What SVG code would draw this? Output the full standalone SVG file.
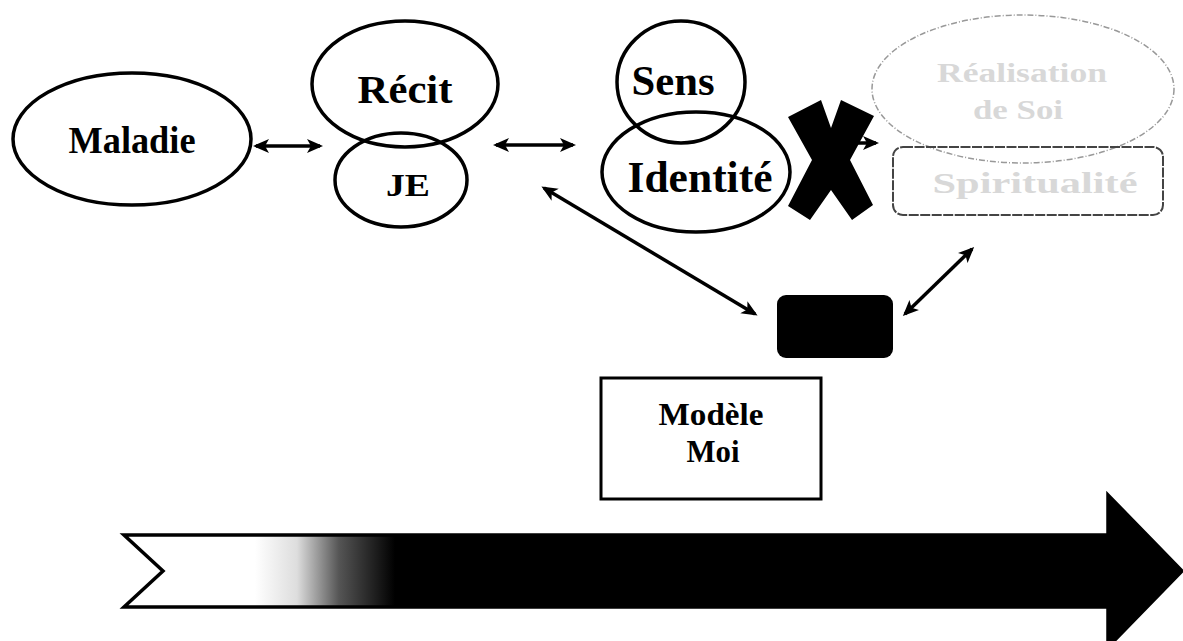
<svg xmlns="http://www.w3.org/2000/svg" width="1183" height="641" viewBox="0 0 1183 641">
  <style>
    .shape { fill: none; stroke: #000; stroke-width: 3.5; }
    .lbl { font-family: "Liberation Serif", "Times New Roman", serif; font-weight: bold; fill: #000; text-anchor: middle; }
    .faint { font-family: "Liberation Serif", "Times New Roman", serif; font-weight: bold; fill: #d8d8d8; text-anchor: middle; }
    .conn { fill: none; stroke: #000; stroke-width: 3.5; }
  </style>
  <defs>
    <marker id="ah" viewBox="0 0 16 14" refX="13" refY="7" markerWidth="16" markerHeight="14" markerUnits="userSpaceOnUse" orient="auto-start-reverse">
      <path d="M0,0 L16,7 L0,14 L4,7 z" fill="#000"/>
    </marker>
    <linearGradient id="fade" gradientUnits="userSpaceOnUse" x1="255" y1="0" x2="395" y2="0">
      <stop offset="0" stop-color="#fff"/>
      <stop offset="0.3" stop-color="#ddd"/>
      <stop offset="0.6" stop-color="#555"/>
      <stop offset="1" stop-color="#000"/>
    </linearGradient>
  </defs>
  <rect width="1183" height="641" fill="#fff"/>

  <g id="connectors">
    <line class="conn" x1="256" y1="146" x2="320" y2="146" marker-start="url(#ah)" marker-end="url(#ah)"/>
    <line class="conn" x1="496" y1="145" x2="573" y2="145" marker-start="url(#ah)" marker-end="url(#ah)"/>
    <line class="conn" x1="544" y1="188" x2="755" y2="314" marker-start="url(#ah)" marker-end="url(#ah)"/>
    <line class="conn" x1="905" y1="314" x2="972" y2="249" marker-start="url(#ah)" marker-end="url(#ah)"/>
    <line class="conn" x1="830" y1="143" x2="876" y2="143" marker-end="url(#ah)"/>
  </g>

  <g id="maladie">
    <ellipse class="shape" cx="132" cy="139" rx="119" ry="66"/>
    <text class="lbl" x="132" y="153" font-size="38" textLength="127" lengthAdjust="spacingAndGlyphs">Maladie</text>
  </g>

  <g id="recit">
    <ellipse class="shape" cx="405" cy="84" rx="93" ry="63"/>
    <text class="lbl" x="405" y="103" font-size="40" textLength="95" lengthAdjust="spacingAndGlyphs">Récit</text>
  </g>

  <g id="je">
    <ellipse class="shape" cx="401" cy="180" rx="66" ry="47"/>
    <text class="lbl" x="408" y="196" font-size="31" textLength="44" lengthAdjust="spacingAndGlyphs">JE</text>
  </g>

  <g id="sens">
    <ellipse class="shape" cx="681" cy="82" rx="64" ry="61"/>
    <text class="lbl" x="673" y="95" font-size="42" textLength="83" lengthAdjust="spacingAndGlyphs">Sens</text>
  </g>

  <g id="identite">
    <ellipse class="shape" cx="696" cy="172" rx="94" ry="60"/>
    <text class="lbl" x="700" y="192" font-size="44" textLength="145" lengthAdjust="spacingAndGlyphs">Identité</text>
  </g>

  <g id="croix">
    <polygon fill="#000" points="788,117 821,100 831,128 841,100 874,116 850,160 873,205 852,220 831,190 810,220 788,206 812,160"/>
  </g>

  <g id="realisation">
    <ellipse cx="1023" cy="89" rx="151" ry="74" fill="none" stroke="#999" stroke-width="1.5" stroke-dasharray="6 2 1 2"/>
    <text class="faint" x="1022" y="82" font-size="28" textLength="170" lengthAdjust="spacingAndGlyphs">Réalisation</text>
    <text class="faint" x="1018" y="119" font-size="28" textLength="90" lengthAdjust="spacingAndGlyphs">de Soi</text>
  </g>

  <g id="spiritualite">
    <rect x="893" y="147" width="270" height="68" rx="10" fill="none" stroke="#444" stroke-width="2" stroke-dasharray="10 1.5"/>
    <text class="faint" x="1035" y="193" font-size="30" textLength="205" lengthAdjust="spacingAndGlyphs">Spiritualité</text>
  </g>

  <g id="noir">
    <rect x="777" y="295" width="116" height="63" rx="9" fill="#000"/>
  </g>

  <g id="modele-moi">
    <rect x="601" y="378" width="220" height="121" fill="none" stroke="#000" stroke-width="3"/>
    <text class="lbl" x="711" y="425" font-size="32" textLength="105" lengthAdjust="spacingAndGlyphs">Modèle</text>
    <text class="lbl" x="713" y="462" font-size="32" textLength="53" lengthAdjust="spacingAndGlyphs">Moi</text>
  </g>

  <g id="fleche-temps">
    <polygon points="124,535 1108,535 1108,495 1182,571 1108,647 1108,607 124,607 163,571" fill="url(#fade)" stroke="#000" stroke-width="3.5" stroke-linejoin="miter"/>
  </g>
</svg>
